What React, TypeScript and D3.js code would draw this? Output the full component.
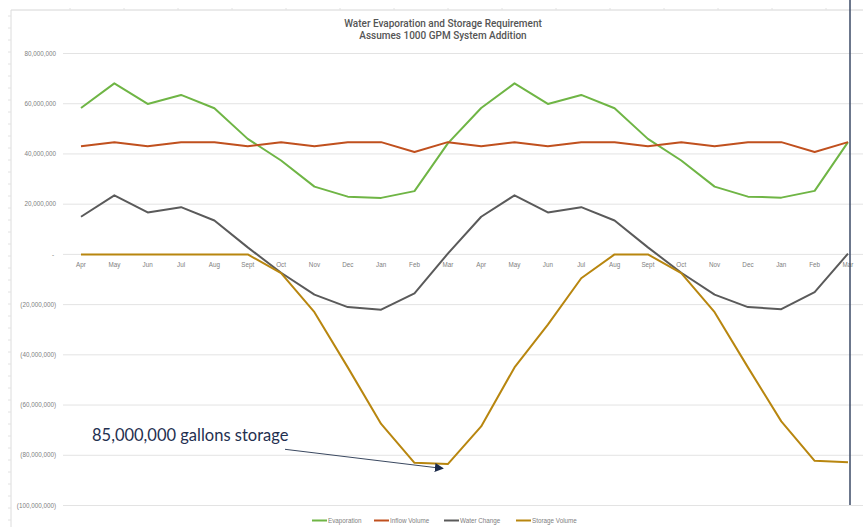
import React from "react";
import * as d3 from "d3";

const months = ["Apr","May","Jun","Jul","Aug","Sept","Oct","Nov","Dec","Jan","Feb","Mar","Apr","May","Jun","Jul","Aug","Sept","Oct","Nov","Dec","Jan","Feb","Mar"];
const evaporation = [58.3,68.1,59.9,63.5,58.2,46,37.4,27,23,22.5,25.2,44.2,58.3,68.1,59.9,63.5,58.2,46,37.4,27,23,22.6,25.3,44.7];
const inflow = [43.1,44.7,43.1,44.7,44.7,43.1,44.7,43.1,44.7,44.7,40.8,44.7,43.1,44.7,43.1,44.7,44.7,43.1,44.7,43.1,44.7,44.7,40.8,44.7];
const waterChange = [15,23.5,16.7,18.8,13.5,2.8,-7.3,-16,-21,-22,-15.5,0.3,15,23.5,16.7,18.8,13.5,2.8,-7.3,-16,-21,-21.8,-15,0.3];
const storage = [0,0,0,0,0,0,-7.5,-23,-45,-67.5,-83,-83.5,-68.5,-45,-28,-9.5,0,0,-7.5,-23,-45,-66.5,-82.2,-82.8];
const yTicks = [80,60,40,20,0,-20,-40,-60,-80,-100];
const seriesNames = ["Evaporation","Inflow Volume","Water Change","Storage Volume"];
const seriesColors = ["#6fb545","#c0501e","#5a5a5a","#b8860f"];
const titleLines = ["Water Evaporation and Storage Requirement","Assumes 1000 GPM System Addition"];
const annotation = "85,000,000 gallons storage";

export default function App() {
  const W = 863, H = 527;
  const x = d3.scalePoint<number>().domain(months.map((_, i) => i)).range([81, 848]);
  const y = d3.scaleLinear().domain([-100, 80]).range([505.5, 53.5]);
  const line = d3.line<number>().x((_, i) => x(i)!).y(d => y(d));
  const allSeries = [evaporation, inflow, waterChange, storage];
  const fmt = d3.format(",");
  const yLabel = (v: number) => v === 0 ? "-" : v > 0 ? fmt(v * 1e6) : `(${fmt(-v * 1e6)})`;
  const legendX = [312, 374, 444, 516];
  const leftTicks = d3.range(16, H, 12);
  const topTicks = d3.range(70, W, 54);

  return (
    <svg width={W} height={H} style={{ position: "absolute", left: 0, top: 0, background: "#fff" }} fontFamily="'Liberation Sans', Arial, sans-serif">
      {/* outer frame */}
      <line x1={11} y1={10} x2={W} y2={10} stroke="#d6d6d6" strokeWidth={1} />
      <line x1={11} y1={10} x2={11} y2={H} stroke="#dcdcdc" strokeWidth={1} />
      {leftTicks.map(t => <line key={"lt" + t} x1={8} x2={11} y1={t} y2={t} stroke="#e2e2e2" />)}
      {topTicks.map(t => <line key={"tt" + t} x1={t} x2={t} y1={8} y2={10} stroke="#e2e2e2" />)}
      {/* title */}
      {titleLines.map((t, i) => (
        <text key={t} x={443} y={27 + i * 12} textAnchor="middle" fontSize={10} fontWeight={500} fill="#555" fontFamily="Roboto, sans-serif">{t}</text>
      ))}
      {/* gridlines and y labels */}
      {yTicks.map(v => (
        <g key={v}>
          <line x1={63} x2={W} y1={y(v)} y2={y(v)} stroke="#e3e3e3" strokeWidth={1} />
          <text x={v === 0 ? 54 : 56} y={y(v) + 2.2} textAnchor="end" fontSize={6.3} fill="#808080">{yLabel(v)}</text>
        </g>
      ))}
      {/* x labels */}
      {months.map((m, i) => (
        <text key={"m" + i} x={x(i)!} y={267} textAnchor="middle" fontSize={6.3} fill="#808080">{m}</text>
      ))}
      {/* series */}
      {allSeries.map((s, k) => (
        <path key={seriesNames[k]} d={line(s)!} fill="none" stroke={seriesColors[k]} strokeWidth={2} strokeLinejoin="round" />
      ))}
      {/* annotation */}
      <defs>
        <marker id="arr" viewBox="0 0 10 10" refX={9} refY={5} markerWidth={9} markerHeight={9} markerUnits="userSpaceOnUse" orient="auto">
          <path d="M0,0 L10,5 L0,10 z" fill="#1c2b4a" />
        </marker>
      </defs>
      <text x={92} y={440.5} fontSize={16.5} fill="#1f3050" fontFamily="Lato, 'Open Sans', sans-serif">{annotation}</text>
      <line x1={285} y1={449.3} x2={443} y2={468.5} stroke="#3a4860" strokeWidth={1} markerEnd="url(#arr)" />
      {/* vertical slide line */}
      <line x1={850} x2={850} y1={0} y2={505} stroke="#3b4a66" strokeWidth={1.5} />
      {/* legend */}
      {seriesNames.map((n, k) => (
        <g key={"lg" + n}>
          <line x1={legendX[k]} x2={legendX[k] + 15} y1={520.5} y2={520.5} stroke={seriesColors[k]} strokeWidth={2} />
          <text x={legendX[k] + 16} y={522.8} fontSize={6.3} fill="#808080">{n}</text>
        </g>
      ))}
    </svg>
  );
}
